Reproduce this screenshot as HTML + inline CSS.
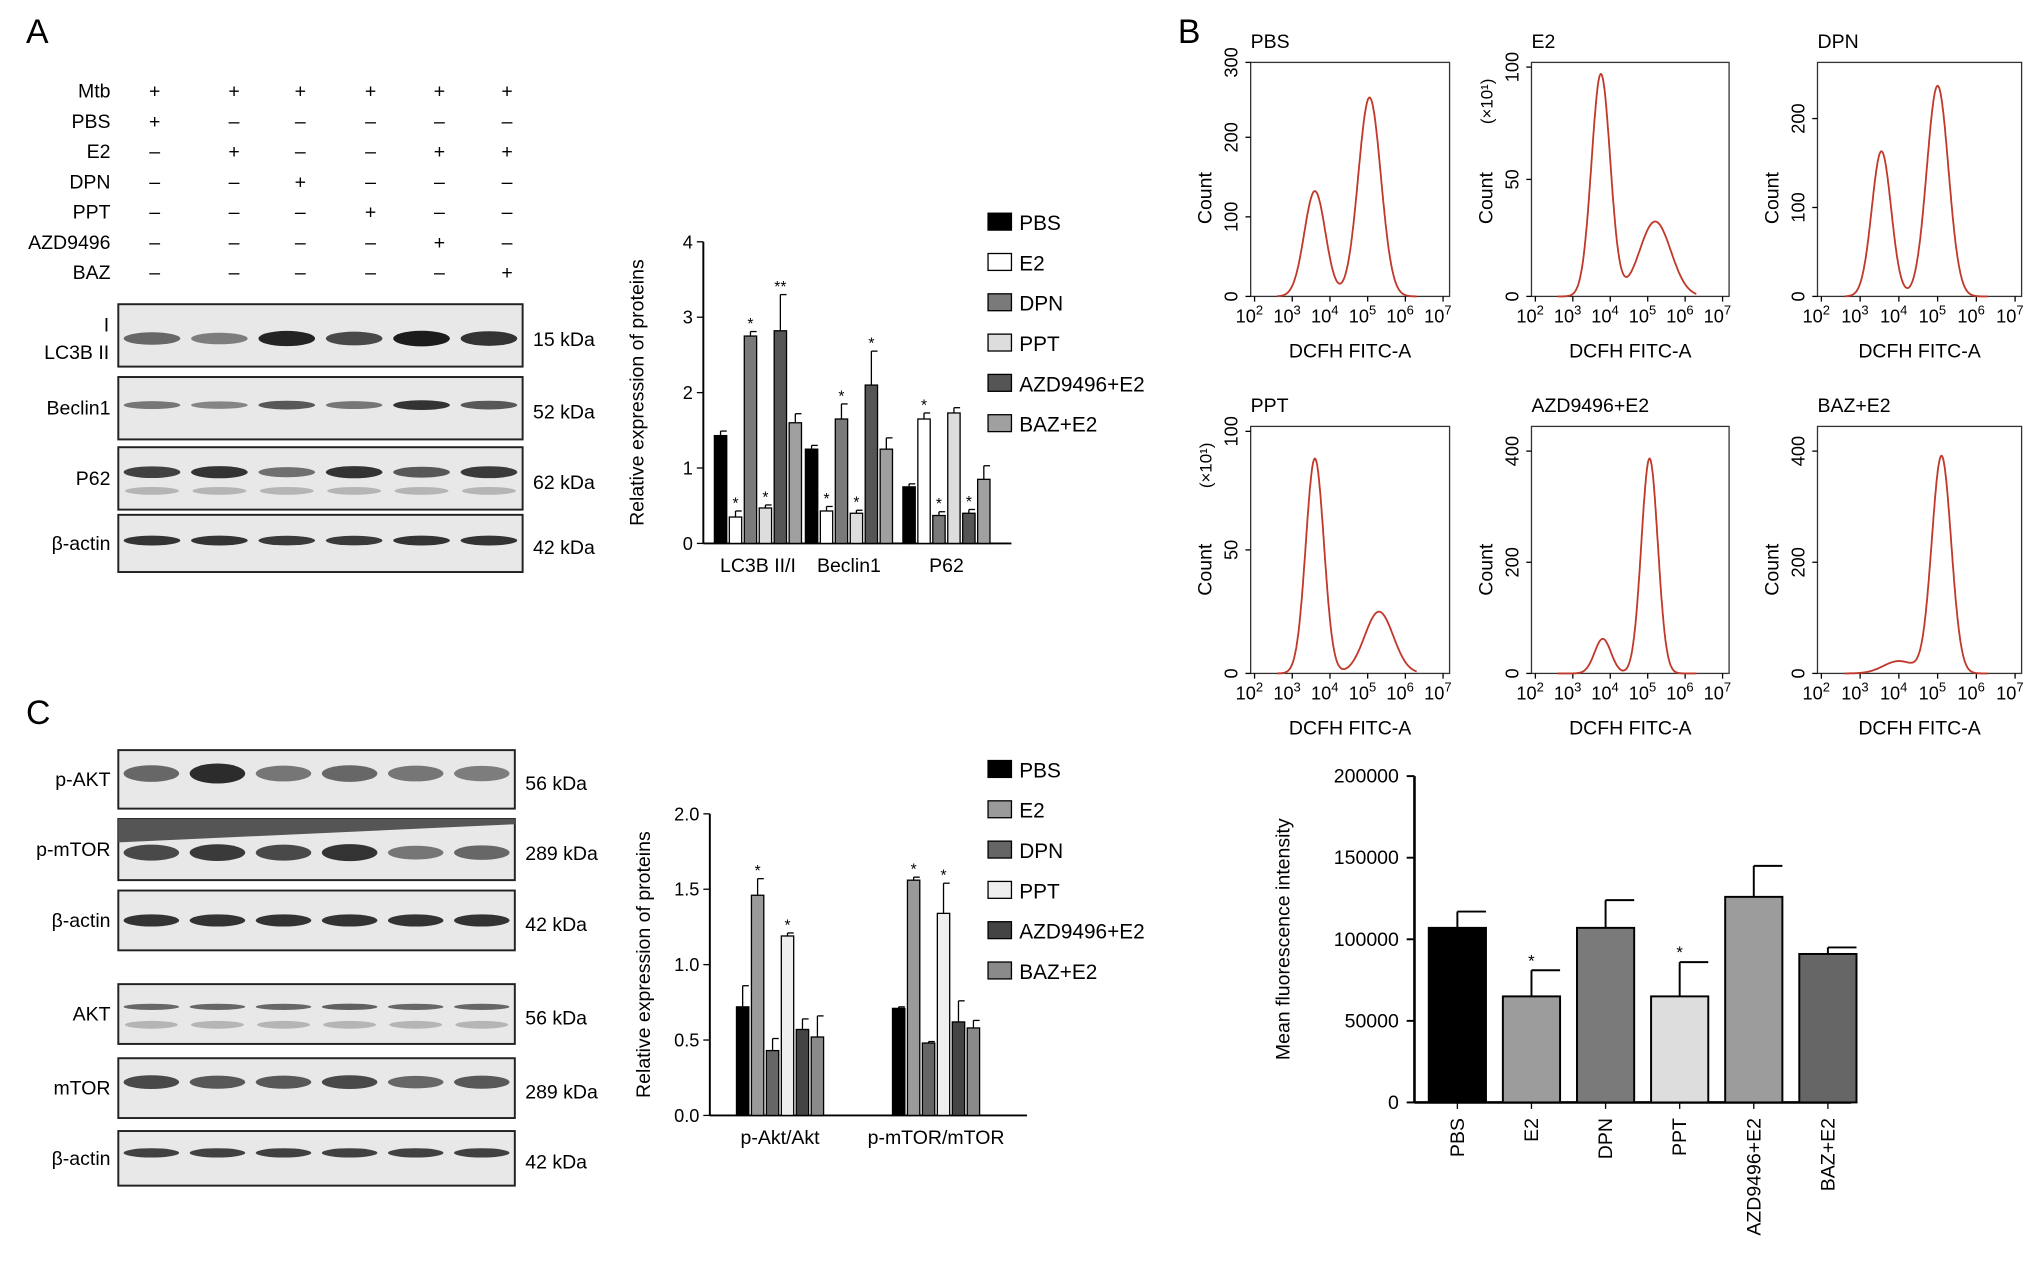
<!DOCTYPE html>
<html><head><meta charset="utf-8"><style>
html,body{margin:0;padding:0;background:#fff;}
svg{display:block;font-family:"Liberation Sans",sans-serif;}
</style></head><body>
<svg id="fig" width="2032" height="1273" viewBox="0 0 1563 979.2" preserveAspectRatio="none" xmlns="http://www.w3.org/2000/svg">
<rect width="1563" height="979.2" fill="#fff"/>
<text x="20" y="33" font-size="26">A</text>
<text x="20" y="557" font-size="26">C</text>
<text x="906" y="33" font-size="26">B</text>
<g id="g"></g>
</svg>
<script>
// ---- data ----
const groupsA = ["LC3B II/I","Beclin1","P62"];
const seriesNames = ["PBS","E2","DPN","PPT","AZD9496+E2","BAZ+E2"];
const valsA = [[1.43,1.25,0.75],[0.35,0.43,1.65],[2.75,1.65,0.37],[0.47,0.40,1.73],[2.82,2.10,0.40],[1.60,1.25,0.85]];
const errA  = [[0.06,0.05,0.04],[0.08,0.06,0.08],[0.06,0.20,0.05],[0.04,0.04,0.07],[0.48,0.45,0.05],[0.12,0.15,0.18]];
const starA = [["","",""],["*","*","*"],["*","*","*"],["*","*",""],["**","*","*"],["","",""]];
const ticksA = [0,1,2,3,4];
const groupsC = ["p-Akt/Akt","p-mTOR/mTOR"];
const valsC = [[0.72,0.71],[1.46,1.56],[0.43,0.48],[1.19,1.34],[0.57,0.62],[0.52,0.58]];
const errC  = [[0.14,0.01],[0.11,0.02],[0.08,0.01],[0.02,0.20],[0.07,0.14],[0.14,0.05]];
const starC = [["",""],["*","*"],["",""],["*","*"],["",""],["",""]];
const ticksC = [0,0.5,1.0,1.5,2.0];
const catsB = ["PBS","E2","DPN","PPT","AZD9496+E2","BAZ+E2"];
const valsB = [107000,65000,107000,65000,126000,91000];
const errB = [10000,16000,17000,21000,19000,4000];
const starB = ["","*","","*","",""];
const ticksB = [0,50000,100000,150000,200000];
// histogram peaks: [logPos, height(frac of ymax), width]
const histPeaks = [
 [[3.6,0.45,0.28],[5.05,0.85,0.3]],
 [[3.75,0.95,0.25],[5.2,0.32,0.42]],
 [[3.55,0.62,0.25],[5.0,0.9,0.28]],
 [[3.6,0.87,0.24],[5.3,0.25,0.38]],
 [[3.8,0.14,0.22],[5.05,0.87,0.22]],
 [[4.0,0.05,0.4],[5.1,0.88,0.25]]
];
const histTitles = ["PBS","E2","DPN","PPT","AZD9496+E2","BAZ+E2"];
const histYTicks = [["0","100","200","300"],["0","50","100"],["0","100","200"],["0","50","100"],["0","200","400"],["0","200","400"]];
const histTickFrac = [[0,0.34,0.68,1.0],[0,0.5,0.98],[0,0.38,0.76],[0,0.5,0.98],[0,0.45,0.9],[0,0.45,0.9]];
const tableRows = ["Mtb","PBS","E2","DPN","PPT","AZD9496","BAZ"];
const tablePlus = [[1,1,1,1,1,1],[1,0,0,0,0,0],[0,1,0,0,1,1],[0,0,1,0,0,0],[0,0,0,1,0,0],[0,0,0,0,1,0],[0,0,0,0,0,1]];

const NS="http://www.w3.org/2000/svg";
const G=document.getElementById('g');
function el(t,a,txt){const e=document.createElementNS(NS,t);for(const k in a)e.setAttribute(k,a[k]);if(txt!==undefined)e.textContent=txt;G.appendChild(e);return e;}

// ---- Table A ----
const colX=[119,180,231,285,338,390];
tableRows.forEach((r,i)=>{const y=75+i*23.3;
 const t=el('text',{x:85,y:y,'font-size':15,'text-anchor':'end'},r);
 
 colX.forEach((x,j)=>{const s=el('text',{x:x,y:y,'font-size':15,'text-anchor':'middle'},tablePlus[i][j]?'+':'–');
 });
});

// ---- blots ----
function blot(x0,y0,w,h,label,kda,intens,bandY,wid,double){
 const r=el('rect',{x:x0,y:y0,width:w,height:h,fill:'#e8e8e8',stroke:'#222','stroke-width':1.5});
 
 const lw=w/6;
 intens.forEach((v,i)=>{const cx=x0+lw*(i+0.5);
  const b=el('ellipse',{cx:cx,cy:y0+h*bandY,rx:lw*0.42,ry:(wid||4)*(0.6+v*0.4),fill:'#111','fill-opacity':0.25+v*0.7});
  
  if(double){el('ellipse',{cx:cx,cy:y0+h*(bandY+0.3),rx:lw*0.4,ry:3,fill:'#555','fill-opacity':0.35});}
 });
 const lt=el('text',{x:x0-6,y:y0+h/2+5,'font-size':15,'text-anchor':'end'},label);
 
 const kt=el('text',{x:x0+w+8,y:y0+h/2+8,'font-size':15},kda);
 
}
blot(91,234,311,48,'',"15 kDa",[0.5,0.35,0.95,0.7,1,0.85],0.55,6);
el('text',{x:84,y:255,'font-size':15,'text-anchor':'end'},'I');
el('text',{x:84,y:276,'font-size':15,'text-anchor':'end'},'LC3B II');
blot(91,290,311,48,'Beclin1',"52 kDa",[0.4,0.3,0.6,0.4,0.85,0.6],0.45,4);
blot(91,344,311,48,'P62',"62 kDa",[0.75,0.85,0.45,0.85,0.6,0.8],0.4,5,true);
blot(91,396,311,44,'β-actin',"42 kDa",[0.85,0.85,0.8,0.8,0.85,0.85],0.45,4);
blot(91,577,305,45,'p-AKT',"56 kDa",[0.5,0.9,0.4,0.5,0.4,0.35],0.4,8);
blot(91,630,305,47,'p-mTOR',"289 kDa",[0.7,0.8,0.7,0.85,0.4,0.5],0.55,7);
el('polygon',{points:'91,630 396,630 396,634 91,648',fill:'#555'});
blot(91,685,305,46,'β-actin',"42 kDa",[0.85,0.85,0.85,0.85,0.85,0.85],0.5,5);
blot(91,757,305,46,'AKT',"56 kDa",[0.5,0.5,0.5,0.55,0.5,0.5],0.38,3,true);
blot(91,814,305,46,'mTOR',"289 kDa",[0.7,0.6,0.6,0.7,0.5,0.6],0.4,6);
blot(91,870,305,42,'β-actin',"42 kDa",[0.75,0.75,0.75,0.75,0.75,0.75],0.4,4);

// ---- grouped bar chart ----
function groupChart(ax,yTop,yBot,xEnd,ymax,ticks,groups,vals,errs,stars,colors,title,gx,legendY,tickFmt){
 const y=v=>yBot-(yBot-yTop)*v/ymax;
 el('line',{x1:ax,y1:yTop,x2:ax,y2:yBot,stroke:'#000','stroke-width':1.5});
 el('line',{x1:ax,y1:yBot,x2:xEnd,y2:yBot,stroke:'#000','stroke-width':1.5});
 ticks.forEach(t=>{el('line',{x1:ax-5,y1:y(t),x2:ax,y2:y(t),stroke:'#000'});
  const tl=el('text',{x:ax-8,y:y(t)+5,'font-size':14,'text-anchor':'end'},tickFmt(t));
  });
 const tt=el('text',{x:0,y:0,'font-size':15,'text-anchor':'middle',transform:`translate(${ax-46},${(yTop+yBot)/2}) rotate(-90)`},title);
 
 const bw=9.5,gap=11.5;
 groups.forEach((g,gi)=>{const cx=gx[gi];
  const gl=el('text',{x:cx,y:yBot+22,'font-size':15,'text-anchor':'middle'},g);
  
  vals.forEach((s,si)=>{const x=cx+(si-2.5)*gap-bw/2;const v=s[gi];
   const b=el('rect',{x:x,y:y(v),width:bw,height:yBot-y(v),fill:colors[si],stroke:'#000','stroke-width':1});
   
   const ye=y(v+errs[si][gi]);
   el('line',{x1:x+bw/2,y1:y(v),x2:x+bw/2,y2:ye,stroke:'#000'});
   el('line',{x1:x+bw/2,y1:ye,x2:x+bw,y2:ye,stroke:'#000'});
   if(stars[si][gi]){el('text',{x:x+bw/2,y:ye-2,'font-size':12,'text-anchor':'middle'},stars[si][gi]);}
  });
 });
 seriesNames.forEach((n,i)=>{const ly=legendY+i*31;
  const r=el('rect',{x:760,y:ly-7,width:18,height:13,fill:colors[i],stroke:'#000'});
  
  const t=el('text',{x:784,y:ly+6,'font-size':16},n);
  
 });
}
groupChart(541,186,418,778,4,ticksA,groupsA,valsA,errA,starA,['#000','#fff','#7a7a7a','#ddd','#555','#a0a0a0'],'Relative expression of proteins',[583,653,728],171,t=>String(t));
groupChart(546,626,858,790,2,ticksC,groupsC,valsC,errC,starC,['#000','#9a9a9a','#666','#eee','#444','#8a8a8a'],'Relative expression of proteins',[600,720],592,t=>t.toFixed(1));

// ---- histograms ----
const boxes=[[962,48,153,180],[1178,48,152,180],[1398,48,157,180],[962,328,153,190],[1178,328,152,190],[1398,328,157,190]];
boxes.forEach((bx,i)=>{const [x0,y0,w,h]=bx;
 const r=el('rect',{x:x0,y:y0,width:w,height:h,fill:'none',stroke:'#333','stroke-width':1});
 
 const tt=el('text',{x:x0,y:y0-11,'font-size':15},histTitles[i]);
 
 const lx=v=>x0+3+(v-2)*(w-8)/5;
 for(let e=2;e<=7;e++){const tx=el('text',{x:lx(e)-4,y:y0+h+20,'font-size':14,'text-anchor':'middle'},'10');
  const sup=document.createElementNS(NS,'tspan');sup.setAttribute('dy',-6);sup.setAttribute('font-size',10);sup.textContent=e;tx.appendChild(sup);
  el('line',{x1:lx(e),y1:y0+h,x2:lx(e),y2:y0+h+4,stroke:'#000'});}
 const xl=el('text',{x:x0+w/2,y:y0+h+47,'font-size':15,'text-anchor':'middle'},'DCFH FITC-A');
 
 const cl=el('text',{x:0,y:0,'font-size':15,'text-anchor':'middle',transform:`translate(${x0-30},${y0+h*0.58}) rotate(-90)`},'Count');
 
 if(i==1||i==3){el('text',{x:0,y:0,'font-size':13,'text-anchor':'middle',transform:`translate(${x0-30},${y0+30}) rotate(-90)`},'(×10¹)');}
 histYTicks[i].forEach((t,k)=>{const yy=y0+h-histTickFrac[i][k]*h;
  el('line',{x1:x0-4,y1:yy,x2:x0,y2:yy,stroke:'#000'});
  el('text',{x:0,y:0,'font-size':14,'text-anchor':'middle',transform:`translate(${x0-10},${yy}) rotate(-90)`},t);});
 let d='';
 for(let s=0;s<=300;s++){const v=2.6+s*3.7/300;let c=0;
  histPeaks[i].forEach(p=>{c+=p[1]*Math.exp(-0.5*((v-p[0])/p[2])**2);});
  d+=(s?'L':'M')+lx(v).toFixed(1)+','+(y0+h-c*h).toFixed(1);}
 const p=el('path',{d:d,fill:'none',stroke:'#c0392b','stroke-width':1.4});
 
});

// ---- MFI bar chart ----
(function(){const ax=1088,yTop=597,yBot=848,xEnd=1424,ymax=200000;
 const y=v=>yBot-(yBot-yTop)*v/ymax;
 el('line',{x1:ax,y1:yTop,x2:ax,y2:yBot,stroke:'#000','stroke-width':2});
 el('line',{x1:ax,y1:yBot,x2:xEnd,y2:yBot,stroke:'#000','stroke-width':2});
 ticksB.forEach(t=>{el('line',{x1:ax-6,y1:y(t),x2:ax,y2:y(t),stroke:'#000','stroke-width':1.5});
  const tl=el('text',{x:ax-12,y:y(t)+5,'font-size':15,'text-anchor':'end'},String(t));
  });
 const tt=el('text',{x:0,y:0,'font-size':15,'text-anchor':'middle',transform:`translate(${992},${(yTop+yBot)/2}) rotate(-90)`},'Mean fluorescence intensity');
 
 const cols=['#000','#9c9c9c','#7a7a7a','#ddd','#9c9c9c','#666'];
 const bw=44,step=57,x0=1121;
 catsB.forEach((c,i)=>{const cx=x0+i*step;const v=valsB[i];
  const b=el('rect',{x:cx-bw/2,y:y(v),width:bw,height:yBot-y(v),fill:cols[i],stroke:'#000','stroke-width':1.5});
  
  const ye=y(v+errB[i]);
  el('line',{x1:cx,y1:y(v),x2:cx,y2:ye,stroke:'#000','stroke-width':1.5});
  el('line',{x1:cx,y1:ye,x2:cx+bw/2,y2:ye,stroke:'#000','stroke-width':1.5});
  if(starB[i])el('text',{x:cx,y:ye-3,'font-size':13,'text-anchor':'middle'},starB[i]);
  el('line',{x1:cx,y1:yBot,x2:cx,y2:yBot+5,stroke:'#000'});
  const xl=el('text',{x:0,y:0,'font-size':15,'text-anchor':'end',transform:`translate(${cx+5},${yBot+12}) rotate(-90)`},c);
  
 });
})();
</script>
</body></html>
